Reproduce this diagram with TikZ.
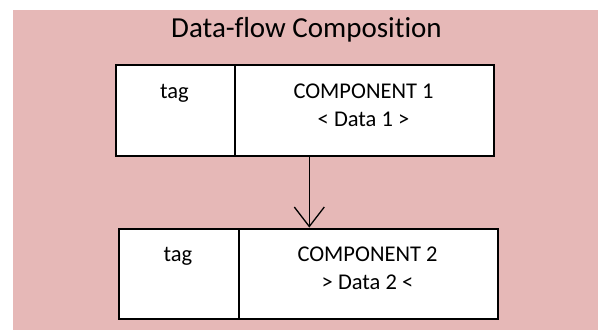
\documentclass[tikz,border=0pt]{standalone}
\usepackage{fontspec}
\setmainfont{Carlito}[Ligatures=NoCommon]
\definecolor{panelpink}{RGB}{230,184,183}
\tikzset{
  cell/.style={draw=black, line width=1.6pt, fill=white, rectangle, inner sep=0pt, anchor=north west},
  boxtext/.style={font=\fontsize{22.5}{28}\selectfont, align=center, inner sep=0pt, anchor=base},
  titletext/.style={font=\fontsize{29}{34}\selectfont, inner sep=0pt, anchor=base},
  flowline/.style={line width=1.3pt, line join=miter}
}
\begin{document}
\begin{tikzpicture}[x=1pt, y=1pt]
  \useasboundingbox (0,0) rectangle (598,-330);
  % background panel
  \fill[panelpink] (13,-10) rectangle (598,-330);
  % title
  \node[titletext] (title) at (306.5,-37.3) {Data-flow Composition};

  % first component (multi-line labels are placed by their last baseline)
  \node[cell, minimum width=119pt, minimum height=91pt] (tag1) at (115,-64) {};
  \node[cell, minimum width=259pt, minimum height=91pt] (comp1) at (234,-64) {};
  \node[boxtext] (tag1text) at (174.5,-98.5) {tag};
  \node[boxtext] (comp1text) at (363.5,-126.5) {COMPONENT 1\\\textless{} Data 1 \textgreater{}};

  % second component
  \node[cell, minimum width=120pt, minimum height=90pt] (tag2) at (118,-228) {};
  \node[cell, minimum width=259pt, minimum height=90pt] (comp2) at (238,-228) {};
  \node[boxtext] (tag2text) at (178,-261.8) {tag};
  \node[boxtext] (comp2text) at (367.5,-289.8) {COMPONENT 2\\\textgreater{} Data 2 \textless{}};

  % data flow between the components, with an open V head
  \coordinate (flowstart) at ([xshift=75.3pt]comp1.south west);
  \coordinate (flowtip) at ([xshift=71.3pt, yshift=1.5pt]comp2.north west);
  \draw[flowline] (flowstart) -- (flowtip);
  \draw[flowline] ([shift={(-15pt,19.5pt)}]flowtip) -- (flowtip) -- ([shift={(15pt,19.5pt)}]flowtip);
\end{tikzpicture}
\end{document}
